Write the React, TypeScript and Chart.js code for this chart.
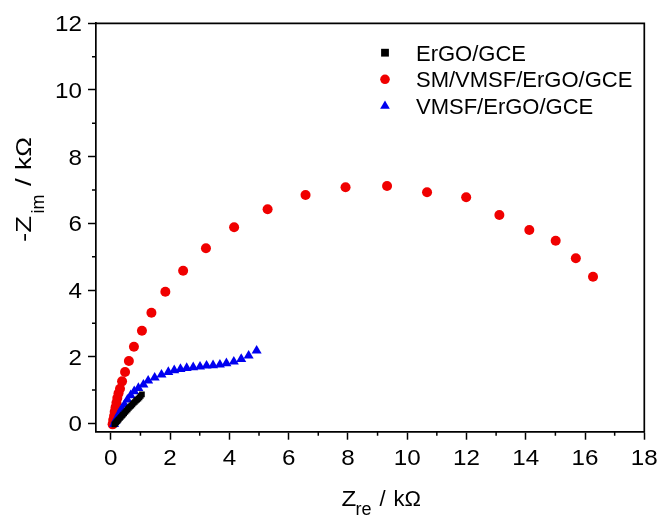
import React, { useEffect, useRef } from "react";
import { Chart, registerables } from "chart.js";

Chart.register(...registerables);

const seriesLabels = ["ErGO/GCE", "SM/VMSF/ErGO/GCE", "VMSF/ErGO/GCE"];
const seriesColors = ["#000000", "#f00000", "#0000f0"];
const seriesStyles = ["rect", "circle", "triangle"];

const ergoX = [0.12, 0.15, 0.18, 0.21, 0.24, 0.27, 0.31, 0.34, 0.38, 0.41, 0.45, 0.49, 0.53, 0.57, 0.61, 0.65, 0.69, 0.73, 0.77, 0.81, 0.85, 0.89, 0.93, 0.97, 1.01, 1.05];
const ergoY = [-0.03, 0.0, 0.03, 0.06, 0.09, 0.12, 0.16, 0.19, 0.23, 0.26, 0.3, 0.34, 0.38, 0.42, 0.46, 0.5, 0.53, 0.57, 0.61, 0.64, 0.68, 0.71, 0.74, 0.78, 0.82, 0.87];

const smX = [0.06, 0.08, 0.11, 0.13, 0.16, 0.19, 0.22, 0.26, 0.31, 0.38, 0.48, 0.61, 0.78, 1.05, 1.37, 1.84, 2.44, 3.21, 4.16, 5.29, 6.57, 7.92, 9.32, 10.67, 11.99, 13.11, 14.12, 15.01, 15.69, 16.27];
const smY = [-0.03, 0.1, 0.22, 0.35, 0.48, 0.62, 0.76, 0.9, 1.04, 1.26, 1.54, 1.87, 2.3, 2.78, 3.32, 3.95, 4.58, 5.25, 5.88, 6.42, 6.85, 7.08, 7.12, 6.93, 6.78, 6.25, 5.8, 5.48, 4.95, 4.4];

const vmsfX = [0.11, 0.16, 0.22, 0.29, 0.37, 0.46, 0.56, 0.67, 0.79, 0.93, 1.1, 1.26, 1.48, 1.71, 1.94, 2.14, 2.35, 2.56, 2.78, 3.01, 3.23, 3.45, 3.68, 3.9, 4.15, 4.4, 4.65, 4.92];
const vmsfY = [-0.02, 0.08, 0.18, 0.31, 0.44, 0.56, 0.71, 0.84, 0.96, 1.06, 1.16, 1.28, 1.37, 1.46, 1.54, 1.59, 1.63, 1.66, 1.68, 1.7, 1.73, 1.74, 1.76, 1.8, 1.85, 1.93, 2.03, 2.18];

const xTicks = [0, 2, 4, 6, 8, 10, 12, 14, 16, 18];
const xMinor = [1, 3, 5, 7, 9, 11, 13, 15, 17];
const yTicks = [0, 2, 4, 6, 8, 10, 12];
const yMinor = [1, 3, 5, 7, 9, 11];

const FONT = "'Liberation Sans', Arial, Helvetica, sans-serif";

const toPoints = (xs: number[], ys: number[]) => xs.map((x, i) => ({ x, y: ys[i] }));

const stretchText = (ctx: any, text: string, x: number, y: number, sx: number, align: string) => {
  ctx.save();
  ctx.translate(x, y);
  ctx.scale(sx, 1);
  ctx.textAlign = align;
  ctx.fillText(text, 0, 0);
  ctx.restore();
};

const extrasPlugin = {
  id: "extras",
  afterDraw(chart: any) {
    const ctx = chart.ctx;
    const { left, right, top, bottom } = chart.chartArea;
    const xs = chart.scales.x;
    const ys = chart.scales.y;
    ctx.save();
    ctx.strokeStyle = "#000";
    ctx.lineWidth = 1.7;
    ctx.beginPath();
    ctx.moveTo(left - 0.85, top);
    ctx.lineTo(right, top);
    ctx.lineTo(right, bottom + 0.85);
    ctx.stroke();
    ctx.lineWidth = 1.5;
    ctx.beginPath();
    xMinor.forEach((v) => {
      const px = xs.getPixelForValue(v);
      ctx.moveTo(px, bottom);
      ctx.lineTo(px, bottom + 4);
    });
    yMinor.forEach((v) => {
      const py = ys.getPixelForValue(v);
      ctx.moveTo(left, py);
      ctx.lineTo(left - 4, py);
    });
    ctx.stroke();

    // tick labels
    ctx.fillStyle = "#000";
    ctx.textBaseline = "alphabetic";
    ctx.font = `22px ${FONT}`;
    xs.ticks.forEach((t: any) => {
      stretchText(ctx, String(t.value), xs.getPixelForValue(t.value), 465, 1.1, "center");
    });
    ys.ticks.forEach((t: any) => {
      stretchText(ctx, String(t.value), 82, ys.getPixelForValue(t.value) + 7.9, 1.1, "right");
    });

    // legend
    const ds = chart.data.datasets;
    const lx = 385;
    const baselines = [60.7, 87.3, 114];
    ds.forEach((d: any, i: number) => {
      const cy = baselines[i] - 8;
      ctx.fillStyle = d.backgroundColor;
      ctx.beginPath();
      if (d.pointStyle === "rect") {
        ctx.rect(lx - 3.9, cy - 3.9, 7.8, 7.8);
      } else if (d.pointStyle === "circle") {
        ctx.arc(lx, cy, 4.8, 0, Math.PI * 2);
      } else {
        const r = 5.6;
        ctx.moveTo(lx, cy - r);
        ctx.lineTo(lx + r * 0.866, cy + r / 2);
        ctx.lineTo(lx - r * 0.866, cy + r / 2);
        ctx.closePath();
      }
      ctx.fill();
      ctx.fillStyle = "#000";
      ctx.font = `22px ${FONT}`;
      ctx.textAlign = "left";
      ctx.fillText(d.label, 416, baselines[i]);
    });

    // x title: Z_re / kΩ
    ctx.fillStyle = "#000";
    ctx.font = `22px ${FONT}`;
    stretchText(ctx, "Z", 341.5, 506, 1.1, "left");
    ctx.font = `18px ${FONT}`;
    ctx.textAlign = "left";
    ctx.fillText("re", 355.5, 515);
    ctx.font = `22px ${FONT}`;
    ctx.fillText("/", 379.5, 506);
    ctx.fillText("kΩ", 393.5, 506);

    // y title: -Z_im / kΩ (rotated)
    ctx.save();
    ctx.translate(30.5, 242);
    ctx.rotate(-Math.PI / 2);
    ctx.font = `22px ${FONT}`;
    stretchText(ctx, "-Z", 0, 0, 1.25, "left");
    ctx.font = `18px ${FONT}`;
    ctx.textAlign = "left";
    ctx.fillText("im", 28.5, 13);
    ctx.font = `22px ${FONT}`;
    stretchText(ctx, "/", 56, 0, 1.25, "left");
    stretchText(ctx, "kΩ", 72, 0, 1.2, "left");
    ctx.restore();

    ctx.restore();
  },
};

export default function App() {
  const ref = useRef<HTMLCanvasElement | null>(null);
  useEffect(() => {
    if (!ref.current) return;
    const seriesX = [ergoX, smX, vmsfX];
    const seriesY = [ergoY, smY, vmsfY];
    const radii = [4, 5, 5.8];
    const orders = [0, 2, 1];
    const gridOpts = {
      display: true,
      drawOnChartArea: false,
      drawTicks: true,
      tickLength: 8,
      tickWidth: 1.5,
      tickColor: "#000",
      color: "#000",
    };
    const chart = new Chart(ref.current, {
      type: "scatter",
      data: {
        datasets: seriesLabels.map((label, i) => ({
          label,
          data: toPoints(seriesX[i], seriesY[i]),
          backgroundColor: seriesColors[i],
          borderColor: seriesColors[i],
          borderWidth: 0,
          pointStyle: seriesStyles[i] as any,
          pointRadius: radii[i],
          pointHoverRadius: radii[i],
          order: orders[i],
        })),
      },
      options: {
        responsive: false,
        animation: false,
        events: [],
        layout: { padding: { left: 0, top: 23.3, right: 17.7, bottom: 0 } },
        plugins: { legend: { display: false }, tooltip: { enabled: false }, title: { display: false } },
        scales: {
          x: {
            type: "linear",
            min: -0.5,
            max: 18,
            afterBuildTicks: (s: any) => {
              s.ticks = xTicks.map((v) => ({ value: v }));
            },
            afterFit: (s: any) => {
              s.height = 518 - 431.7;
            },
            ticks: { display: false, autoSkip: false },
            grid: gridOpts,
            border: { display: true, color: "#000", width: 1.7 },
          },
          y: {
            type: "linear",
            min: -0.25,
            max: 12,
            afterBuildTicks: (s: any) => {
              s.ticks = yTicks.map((v) => ({ value: v }));
            },
            afterFit: (s: any) => {
              s.width = 96;
            },
            ticks: { display: false, autoSkip: false },
            grid: gridOpts,
            border: { display: true, color: "#000", width: 1.7 },
          },
        },
      },
      plugins: [extrasPlugin],
    });
    return () => chart.destroy();
  }, []);
  return (
    <div style={{ position: "absolute", left: 0, top: 0, width: 662, height: 518, background: "#fff" }}>
      <canvas ref={ref} width={662} height={518} style={{ display: "block" }} />
    </div>
  );
}
